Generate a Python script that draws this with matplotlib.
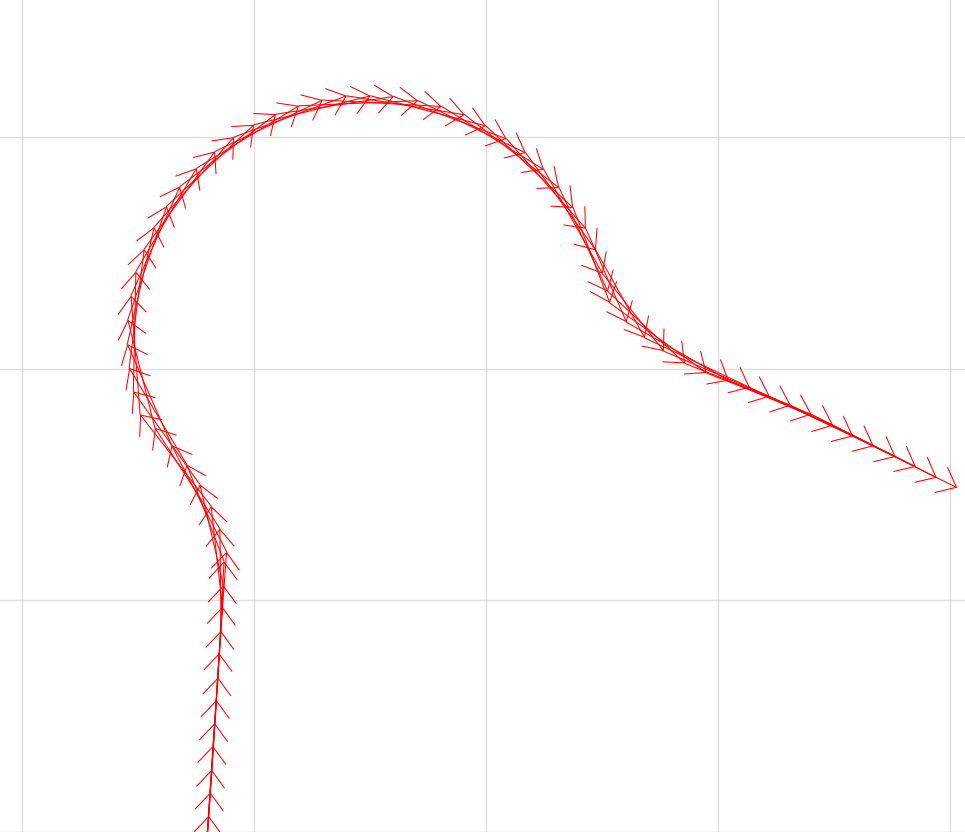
import matplotlib
matplotlib.use("Agg")
import matplotlib.pyplot as plt

# track positions, one sample per step (grid every 10 units)
track_x = [7.72, 7.78, 7.84,
           7.91, 7.97, 8.05, 8.12, 8.18, 8.23, 8.31, 8.38, 8.45, 8.50,
           8.58, 8.64, 8.68, 8.71, 8.82, 8.53, 8.15, 7.67, 7.10, 6.45,
           5.73, 5.09, 4.80, 4.62, 4.54, 4.56, 4.70, 4.91, 5.27, 5.70,
           6.24, 6.81, 7.53, 8.32, 9.14, 10.00, 10.95, 11.94, 12.96, 14.00,
           15.03, 16.03, 17.08, 18.09, 19.09, 20.00, 20.89, 21.72, 22.50, 23.16,
           23.76, 24.31, 24.74, 25.03, 25.26, 25.34, 26.06, 26.85, 27.67, 28.58,
           29.51, 30.47, 31.38, 32.24, 33.15, 34.04, 34.97, 35.83, 36.72, 37.66,
           38.53, 39.43, 40.31, 41.21, 42.11]
track_y = [-14.27, -13.28, -12.28,
           -11.29, -10.30, -9.30, -8.29, -7.31, -6.28, -5.30, -4.30, -3.33, -2.28,
           -1.32, -0.28, 0.65, 1.68, 2.10, 3.09, 4.07, 5.00, 5.86, 6.69,
           7.44, 8.02, 9.01, 10.03, 11.06, 12.11, 13.15, 14.19, 15.16, 16.11,
           17.01, 17.86, 18.65, 19.37, 19.99, 20.52, 20.98, 21.34, 21.59, 21.77,
           21.77, 21.74, 21.56, 21.31, 20.95, 20.47, 19.91, 19.30, 18.58, 17.79,
           16.93, 16.03, 15.10, 14.09, 13.32, 12.83, 12.00, 11.32, 10.75, 10.22,
           9.81, 9.48, 9.18, 8.79, 8.41, 8.02, 7.54, 7.08, 6.65, 6.19,
           5.76, 5.29, 4.86, 4.42, 3.97]

LAG = 5  # each arrow starts a few samples back

fig = plt.figure(figsize=(9.65, 8.32), dpi=100)
ax = fig.add_axes([0, 0, 1, 1])

for i in range(LAG, len(track_x)):
    ax.annotate("", xy=(track_x[i], track_y[i]),
                xytext=(track_x[i - LAG], track_y[i - LAG]),
                arrowprops=dict(arrowstyle="->,head_length=0.8,head_width=0.67",
                                color="#ff0000", lw=0.75, mutation_scale=15,
                                shrinkA=0, shrinkB=0))

ax.set_xlim(-0.948, 40.65)
ax.set_ylim(-9.957, 25.905)
ax.set_xticks(range(0, 41, 10))
ax.set_yticks(range(-10, 30, 10))
ax.grid(True, color="#dddddd", linewidth=1.0)
ax.set_axisbelow(True)
ax.tick_params(length=0, labelbottom=False, labelleft=False)
for s in ax.spines.values():
    s.set_visible(False)

fig.savefig("out.png", dpi=100)
